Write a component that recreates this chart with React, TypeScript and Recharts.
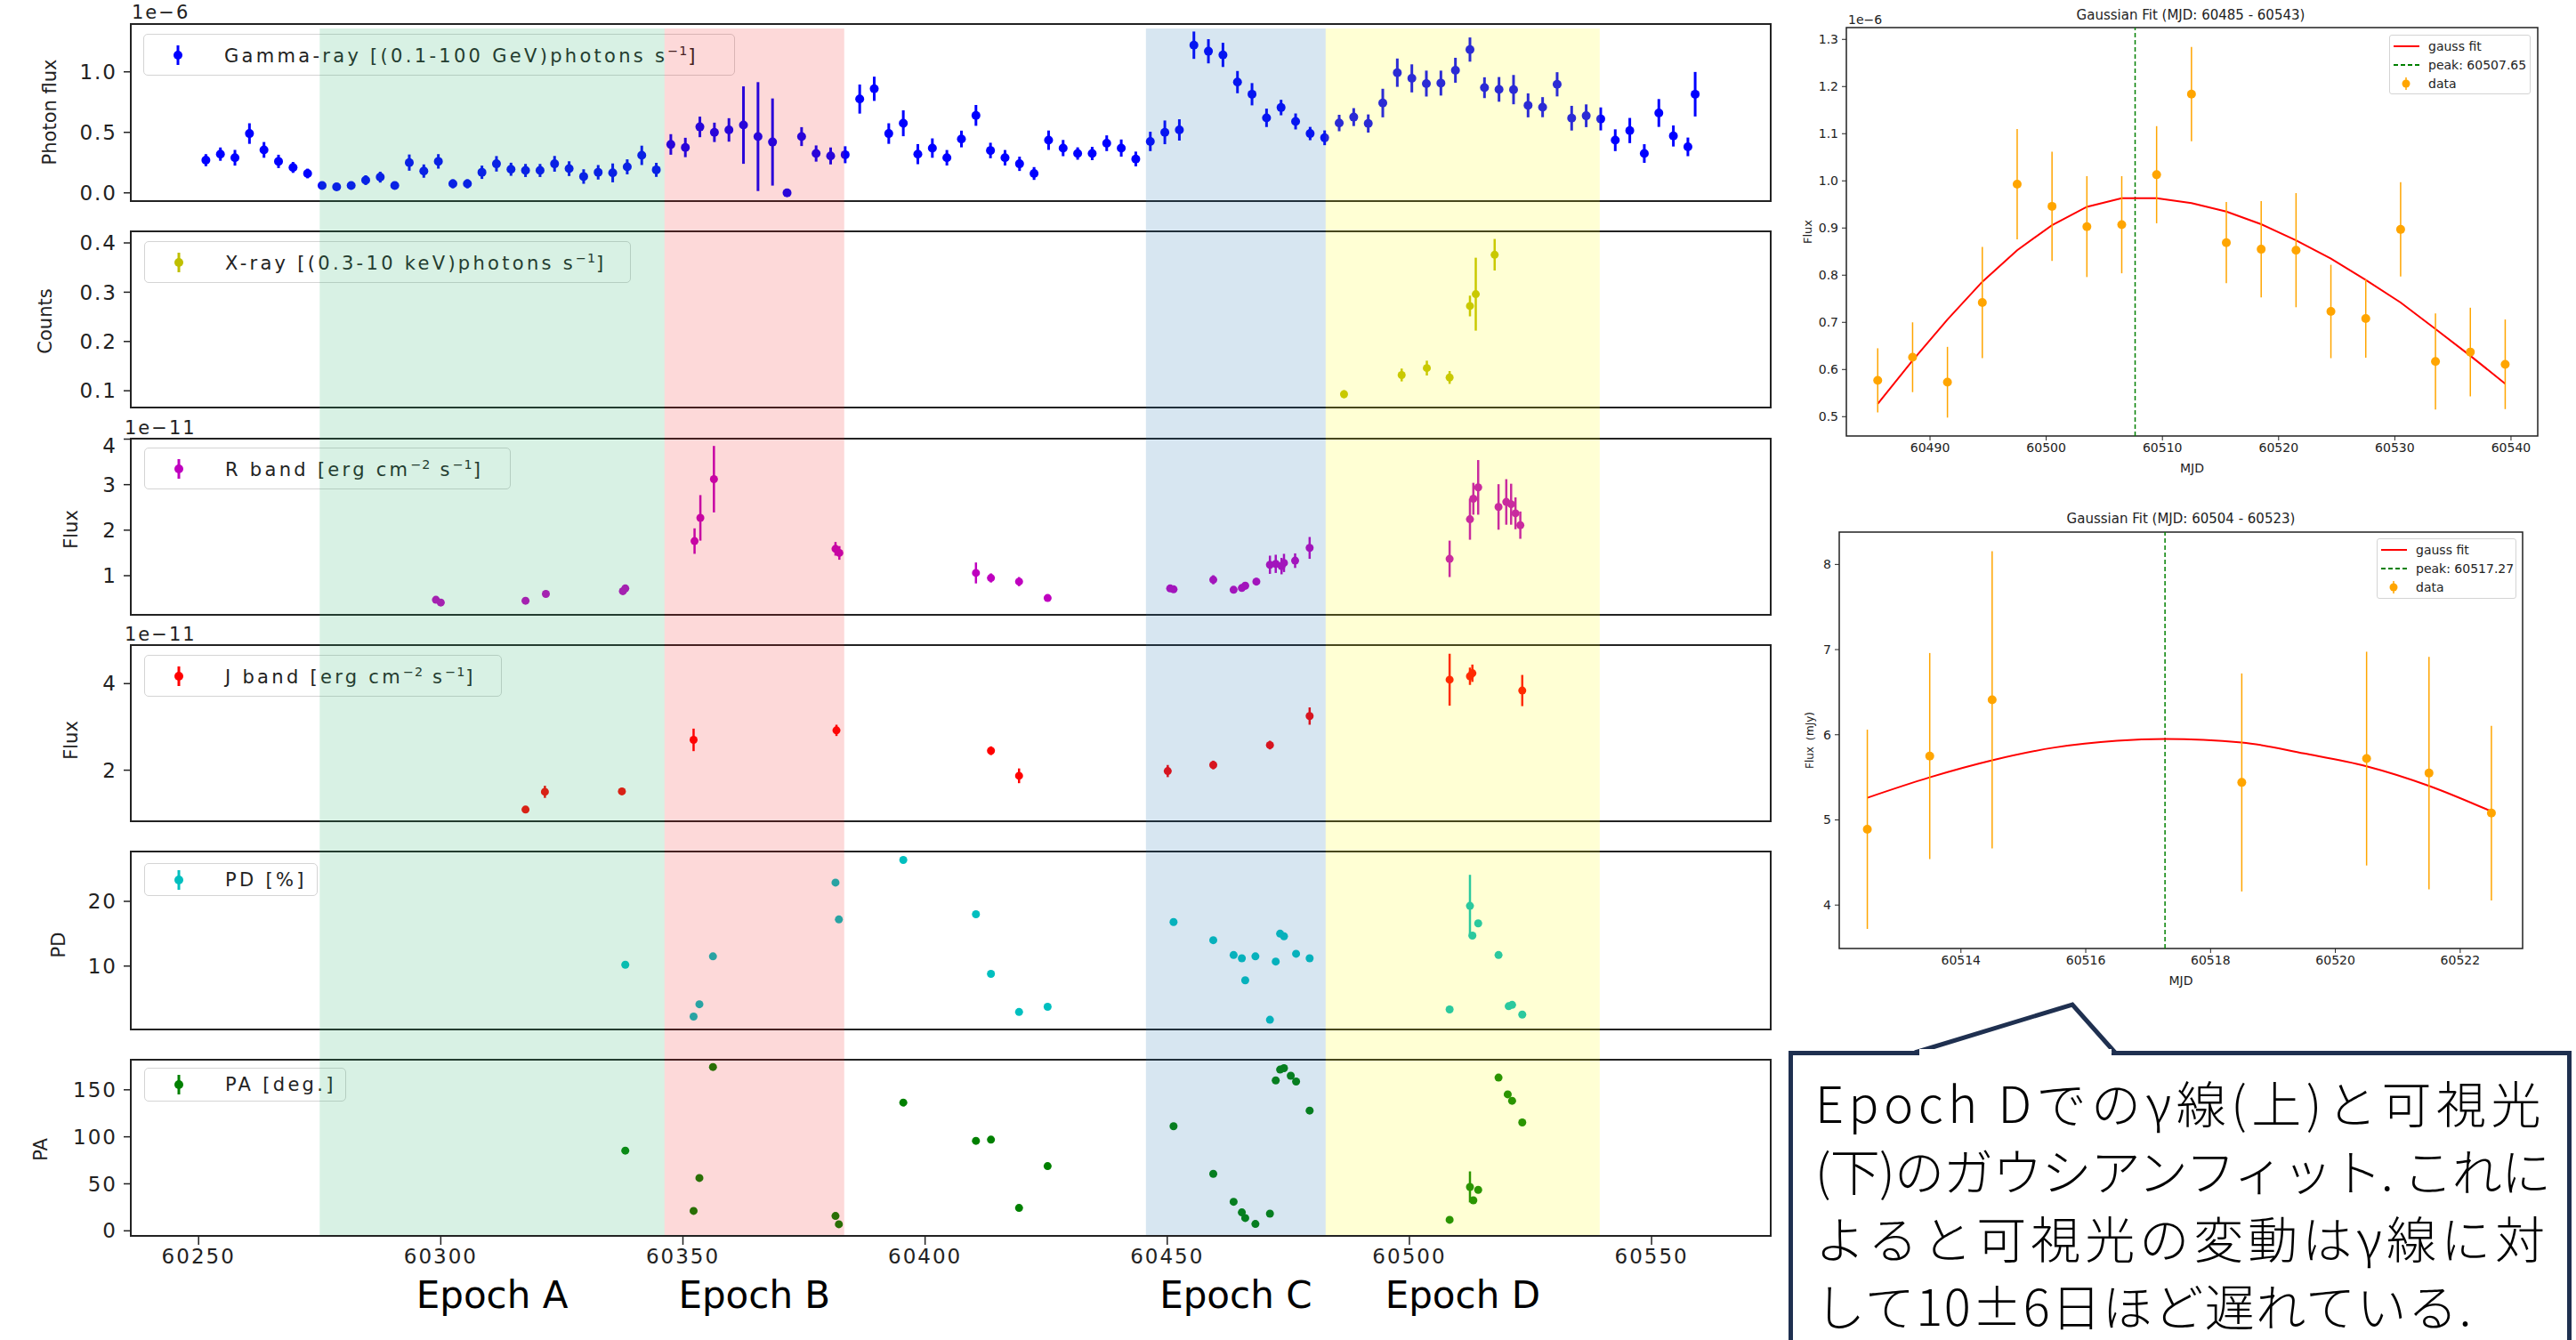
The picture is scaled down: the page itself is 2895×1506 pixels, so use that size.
import React from "react";
import {
  ScatterChart,
  ComposedChart,
  Scatter,
  Line,
  XAxis,
  YAxis,
  ErrorBar,
  ReferenceArea,
  ReferenceLine,
} from "recharts";

const FONT = '"DejaVu Sans", sans-serif';
const JP_FONT = '"Noto Sans CJK JP", sans-serif';

// shared MJD axis of the six light curves
const mjdDomain = [60236, 60574.6];
const mjdTicks = [60250, 60300, 60350, 60400, 60450, 60500, 60550];

const epochNames = ["Epoch A", "Epoch B", "Epoch C", "Epoch D"];
const epochStart = [60275, 60346.2, 60445.6, 60482.7];
const epochEnd = [60346.2, 60383.3, 60482.7, 60539.3];
const epochFill = [
  "rgba(50,180,110,0.19)",
  "rgba(245,30,30,0.17)",
  "rgba(31,119,180,0.18)",
  "rgba(255,255,0,0.17)",
];

// gamma-ray, 3 day bins (1e-6 ph cm-2 s-1)
const gammaMjd = [
  60251.5, 60254.5, 60257.5, 60260.5, 60263.5, 60266.5, 60269.5, 60272.5,
  60275.5, 60278.5, 60281.5, 60284.5, 60287.5, 60290.5, 60293.5, 60296.5,
  60299.5, 60302.5, 60305.5, 60308.5, 60311.5, 60314.5, 60317.5, 60320.5,
  60323.5, 60326.5, 60329.5, 60332.5, 60335.5, 60338.5, 60341.5, 60344.5,
  60347.5, 60350.5, 60353.5, 60356.5, 60359.5, 60362.5, 60365.5, 60368.5,
  60371.5, 60374.5, 60377.5, 60380.5, 60383.5, 60386.5, 60389.5, 60392.5,
  60395.5, 60398.5, 60401.5, 60404.5, 60407.5, 60410.5, 60413.5, 60416.5,
  60419.5, 60422.5, 60425.5, 60428.5, 60431.5, 60434.5, 60437.5, 60440.5,
  60443.5, 60446.5, 60449.5, 60452.5, 60455.5, 60458.5, 60461.5, 60464.5,
  60467.5, 60470.5, 60473.5, 60476.5, 60479.5, 60482.5, 60485.5, 60488.5,
  60491.5, 60494.5, 60497.5, 60500.5, 60503.5, 60506.5, 60509.5, 60512.5,
  60515.5, 60518.5, 60521.5, 60524.5, 60527.5, 60530.5, 60533.5, 60536.5,
  60539.5, 60542.5, 60545.5, 60548.5, 60551.5, 60554.5, 60557.5, 60559.0,
];
const gammaFlux = [
  0.27, 0.32, 0.29, 0.49, 0.355, 0.26, 0.21, 0.16,
  0.06, 0.05, 0.06, 0.105, 0.13, 0.06, 0.25, 0.18,
  0.26, 0.075, 0.075, 0.17, 0.24, 0.195, 0.185, 0.185,
  0.24, 0.2, 0.135, 0.17, 0.165, 0.215, 0.31, 0.19,
  0.4, 0.375, 0.545, 0.5, 0.52, 0.56, 0.465, 0.42,
  0.0, 0.465, 0.325, 0.305, 0.315, 0.775, 0.86, 0.49,
  0.575, 0.32, 0.37, 0.29, 0.445, 0.64, 0.35, 0.29,
  0.24, 0.16, 0.435, 0.37, 0.325, 0.325, 0.41, 0.37,
  0.28, 0.425, 0.5, 0.52, 1.22, 1.17, 1.14, 0.915,
  0.815, 0.62, 0.705, 0.59, 0.49, 0.455, 0.577, 0.626,
  0.573, 0.742, 0.993, 0.946, 0.903, 0.907, 1.013, 1.184,
  0.869, 0.855, 0.853, 0.723, 0.708, 0.897, 0.617, 0.637,
  0.611, 0.435, 0.515, 0.325, 0.66, 0.47, 0.38, 0.815,
];
const gammaErr = [
  0.05, 0.055, 0.065, 0.085, 0.065, 0.055, 0.045, 0.04,
  0.025, 0.025, 0.033, 0.04, 0.045, 0.03, 0.067, 0.055,
  0.06, 0.037, 0.037, 0.055, 0.064, 0.054, 0.054, 0.054,
  0.065, 0.061, 0.06, 0.06, 0.078, 0.062, 0.08, 0.058,
  0.085, 0.08, 0.085, 0.08, 0.097, 0.32, 0.45, 0.36,
  0, 0.078, 0.067, 0.07, 0.07, 0.12, 0.1, 0.085,
  0.107, 0.083, 0.08, 0.064, 0.069, 0.086, 0.064, 0.064,
  0.059, 0.053, 0.08, 0.067, 0.051, 0.055, 0.065, 0.071,
  0.061, 0.08, 0.098, 0.088, 0.113, 0.1, 0.1, 0.092,
  0.092, 0.076, 0.064, 0.066, 0.055, 0.061, 0.068, 0.074,
  0.075, 0.118, 0.117, 0.116, 0.107, 0.103, 0.103, 0.1,
  0.086, 0.102, 0.121, 0.099, 0.083, 0.1, 0.102, 0.094,
  0.095, 0.09, 0.104, 0.077, 0.115, 0.087, 0.077, 0.184,
];

// X-ray counts
const xrayMjd = [60486.5, 60498.4, 60503.6, 60508.3, 60512.5, 60513.7, 60517.6];
const xrayRate = [0.093, 0.132, 0.146, 0.127, 0.272, 0.296, 0.376];
const xrayErr = [0.008, 0.013, 0.015, 0.013, 0.021, 0.074, 0.032];

// R band (1e-11)
const rMjd = [
  60299.0, 60300.0, 60317.5, 60321.7, 60337.6, 60338.1, 60352.4, 60353.6,
  60356.4, 60381.5, 60382.3, 60410.5, 60413.6, 60419.4, 60425.3, 60450.6,
  60451.3, 60459.5, 60463.7, 60465.4, 60466.1, 60468.4, 60471.2, 60472.4,
  60473.6, 60474.1, 60476.4, 60479.4, 60508.3, 60512.5, 60513.2, 60514.2,
  60518.4, 60520.0, 60521.0, 60521.9, 60522.9,
];
const rFlux = [
  0.47, 0.41, 0.45, 0.6, 0.66, 0.72, 1.76, 2.27,
  3.12, 1.59, 1.5, 1.06, 0.95, 0.87, 0.51, 0.72,
  0.7, 0.91, 0.69, 0.73, 0.78, 0.87, 1.24, 1.26,
  1.21, 1.28, 1.33, 1.61, 1.37, 2.24, 2.69, 2.94,
  2.51, 2.62, 2.57, 2.37, 2.11,
];
const rErr = [
  0.06, 0.05, 0.05, 0.05, 0.06, 0.06, 0.28, 0.5,
  0.73, 0.15, 0.15, 0.23, 0.1, 0.1, 0.05, 0.05,
  0.05, 0.1, 0.06, 0.07, 0.08, 0.08, 0.2, 0.2,
  0.18, 0.2, 0.16, 0.24, 0.4, 0.45, 0.35, 0.6,
  0.5, 0.5, 0.45, 0.35, 0.3,
];

// J band (1e-11)
const jMjd = [
  60317.5, 60321.5, 60337.4, 60352.2, 60381.7, 60413.6, 60419.4, 60450.1,
  60459.5, 60471.2, 60479.4, 60508.3, 60512.5, 60513.0, 60523.3,
];
const jFlux = [1.09, 1.5, 1.51, 2.7, 2.92, 2.45, 1.87, 1.98, 2.12, 2.58, 3.25, 4.09, 4.17, 4.24, 3.84];
const jErr = [0.05, 0.14, 0.07, 0.26, 0.13, 0.1, 0.17, 0.14, 0.1, 0.1, 0.2, 0.6, 0.2, 0.2, 0.36];

// polarization degree
const pdMjd = [
  60338.1, 60352.2, 60353.4, 60356.2, 60381.5, 60382.2, 60395.5, 60410.5,
  60413.6, 60419.4, 60425.3, 60451.3, 60459.5, 60463.7, 60465.4, 60466.1,
  60468.2, 60471.2, 60472.4, 60473.3, 60474.1, 60476.6, 60479.4, 60508.3,
  60512.5, 60513.0, 60514.2, 60518.4, 60520.5, 60521.2, 60523.3,
];
const pdVal = [
  10.2, 2.2, 4.1, 11.5, 22.9, 17.2, 26.4, 18.0,
  8.8, 2.9, 3.7, 16.8, 14.0, 11.7, 11.2, 7.8,
  11.5, 1.7, 10.7, 15.0, 14.6, 11.9, 11.2, 3.3,
  19.3, 14.7, 16.6, 11.7, 3.8, 4.0, 2.5,
];
const pdErr = [
  0.3, 0.3, 0.3, 0.3, 0.4, 0.3, 0.4, 0.3,
  0.3, 0.3, 0.3, 0.3, 0.3, 0.3, 0.3, 0.3,
  0.3, 0.3, 0.3, 0.4, 0.3, 0.3, 0.3, 0.3,
  4.8, 0.4, 0.4, 0.3, 0.3, 0.3, 0.3,
];

// polarization angle
const paMjd = [
  60338.1, 60352.2, 60353.4, 60356.2, 60381.5, 60382.2, 60395.5, 60410.5,
  60413.6, 60419.4, 60425.3, 60451.3, 60459.5, 60463.7, 60465.4, 60466.1,
  60468.2, 60471.2, 60472.4, 60473.3, 60474.1, 60475.5, 60476.6, 60479.4,
  60508.3, 60512.5, 60513.2, 60514.2, 60518.4, 60520.3, 60521.2, 60523.3,
];
const paVal = [
  85.3, 21.2, 56.2, 174.3, 15.8, 7.0, 136.4, 95.7,
  97.0, 24.3, 68.8, 111.2, 60.6, 30.9, 19.6, 13.6,
  7.3, 18.3, 160.0, 171.5, 173.0, 165.0, 158.8, 127.9,
  11.7, 46.7, 32.5, 43.6, 163.0, 145.2, 138.3, 115.3,
];
const paErr = [
  1.5, 1.5, 1.5, 1.5, 1.5, 1.5, 1.5, 1.5,
  1.5, 1.5, 1.5, 1.5, 1.5, 1.5, 1.5, 1.5,
  1.5, 1.5, 1.5, 1.5, 1.5, 1.5, 1.5, 1.5,
  1.5, 16.5, 1.5, 1.5, 1.5, 1.5, 1.5, 1.5,
];

// gaussian fit, gamma rays in epoch D
const gFitMjd = [
  60485.5, 60488.5, 60491.5, 60494.5, 60497.5, 60500.5, 60503.5, 60506.5,
  60509.5, 60512.5, 60515.5, 60518.5, 60521.5, 60524.5, 60527.5, 60530.5,
  60533.5, 60536.5, 60539.5,
];
const gFitFlux = [
  0.577, 0.626, 0.573, 0.742, 0.993, 0.946, 0.903, 0.907,
  1.013, 1.184, 0.869, 0.855, 0.853, 0.723, 0.708, 0.897,
  0.617, 0.637, 0.611,
];
const gFitErr = [
  0.068, 0.074, 0.075, 0.118, 0.117, 0.116, 0.107, 0.103,
  0.103, 0.1, 0.086, 0.102, 0.121, 0.099, 0.083, 0.1,
  0.102, 0.094, 0.095,
];
const gFitCurve = [
  0.527, 0.619, 0.706, 0.786, 0.853, 0.906, 0.945, 0.963,
  0.963, 0.953, 0.935, 0.908, 0.874, 0.835, 0.79, 0.742,
  0.686, 0.629, 0.57,
];
const gPeak = 60507.65;

// gaussian fit, optical in epoch D (mJy)
const oMjd = [60512.5, 60513.5, 60514.5, 60518.5, 60520.5, 60521.5, 60522.5];
const oFlux = [4.89, 5.75, 6.41, 5.44, 5.72, 5.55, 5.08];
const oErr = [1.17, 1.21, 1.745, 1.28, 1.255, 1.365, 1.025];
const oCurveMjd = [
  60512.5, 60513.5, 60514.5, 60515.5, 60516.5, 60517.27, 60518.5, 60519.5,
  60520.5, 60521.5, 60522.5,
];
const oCurve = [5.26, 5.5, 5.7, 5.85, 5.93, 5.95, 5.91, 5.78, 5.63, 5.4, 5.1];
const oPeak = 60517.27;

const noteLines = [
  "Epoch Dでのγ線(上)と可視光",
  "(下)のガウシアンフィット. これに",
  "よると可視光の変動はγ線に対",
  "して10±6日ほど遅れている.",
];
const noteSpacing = [5.5, -0.8, 5, 1.5];

const pts = (xs: number[], ys: number[], es?: number[]) =>
  xs.map((x, i) => ({ x, y: ys[i], e: es ? es[i] : 0 }));

const dot = (r: number, color: string) => (props: any) =>
  <circle cx={props.cx} cy={props.cy} r={r} fill={color} />;

const leftTick = { fontSize: 23, fill: "#222", fontFamily: FONT, letterSpacing: 2 };
const rightTick = { fontSize: 14, fill: "#222", fontFamily: FONT };

interface PanelProps {
  top: number;
  plotH: number;
  yDomain: number[];
  yTicks: number[];
  fmt: (v: number) => string;
  data: { x: number; y: number; e: number }[];
  color: string;
  r: number;
  ew: number;
  last?: boolean;
}

const Panel: React.FC<PanelProps> = (p) => {
  const xH = p.last ? 50 : 12;
  return (
    <div style={{ position: "absolute", left: 0, top: p.top - 5 }}>
      <ScatterChart width={2000} height={5 + p.plotH + xH} margin={{ top: 5, right: 10, left: 0, bottom: 0 }}>
        <XAxis
          type="number"
          dataKey="x"
          domain={mjdDomain}
          ticks={mjdTicks}
          allowDataOverflow
          height={xH}
          axisLine={false}
          tickLine={{ stroke: "#222", strokeWidth: 1.5 }}
          tickSize={10}
          tickMargin={5}
          tick={p.last ? leftTick : false}
        />
        <YAxis
          type="number"
          dataKey="y"
          domain={p.yDomain}
          ticks={p.yTicks}
          allowDataOverflow
          width={147}
          axisLine={false}
          tickLine={{ stroke: "#222", strokeWidth: 1.5 }}
          tickSize={8}
          tickMargin={7}
          tick={leftTick}
          tickFormatter={p.fmt}
        />
        <ReferenceArea
          x1={mjdDomain[0]}
          x2={mjdDomain[1]}
          y1={p.yDomain[0]}
          y2={p.yDomain[1]}
          fill="none"
          stroke="#222"
          strokeWidth={2}
          ifOverflow="visible"
        />
        <Scatter data={p.data} fill={p.color} shape={dot(p.r, p.color)} isAnimationActive={false}>
          <ErrorBar dataKey="e" direction="y" width={0} stroke={p.color} strokeWidth={p.ew} isAnimationActive={false} />
        </Scatter>
      </ScatterChart>
    </div>
  );
};

const Txt: React.FC<{ x: number; y: number; size: number; anchor?: number; rotate?: boolean; spacing?: number; children: React.ReactNode }> = ({
  x, y, size, anchor = 0, rotate, spacing = 0, children,
}) => (
  <div
    style={{
      position: "absolute",
      left: x,
      top: y,
      transform: rotate ? "translate(-50%,-50%) rotate(-90deg)" : `translate(${-anchor}%,-50%)`,
      fontFamily: FONT,
      fontSize: size,
      letterSpacing: spacing,
      lineHeight: 1,
      whiteSpace: "nowrap",
      color: "#222",
    }}
  >
    {children}
  </div>
);

const PanelLegend: React.FC<{ left: number; top: number; width: number; height: number; color: string; children: React.ReactNode }> = ({
  left, top, width, height, color, children,
}) => (
  <div
    style={{
      position: "absolute",
      left,
      top,
      width,
      height,
      boxSizing: "border-box",
      border: "1.5px solid #d4d4d4",
      borderRadius: 5,
      background: "rgba(255,255,255,0.8)",
      display: "flex",
      alignItems: "center",
      fontFamily: FONT,
      fontSize: 21,
      letterSpacing: 3.3,
      color: "#222",
      whiteSpace: "nowrap",
    }}
  >
    <svg width={90} height={26} style={{ flex: "none" }}>
      <line x1={38} x2={38} y1={2} y2={24} stroke={color} strokeWidth={3} />
      <circle cx={38} cy={13} r={5} fill={color} />
    </svg>
    <span>{children}</span>
  </div>
);

const FitLegend: React.FC<{ left: number; top: number; width: number; height: number; peak: string }> = ({
  left, top, width, height, peak,
}) => {
  const row = { display: "flex", alignItems: "center", height: 21 } as const;
  return (
    <div
      style={{
        position: "absolute",
        left,
        top,
        width,
        height,
        boxSizing: "border-box",
        border: "1px solid #d4d4d4",
        borderRadius: 3,
        background: "#fff",
        padding: "1px 0 0 3px",
        fontFamily: FONT,
        fontSize: 14,
        color: "#222",
        whiteSpace: "nowrap",
      }}
    >
      <div style={row}>
        <svg width={40} height={10}><line x1={1} x2={30} y1={5} y2={5} stroke="#ff0000" strokeWidth={2} /></svg>
        <span>gauss fit</span>
      </div>
      <div style={row}>
        <svg width={40} height={10}><line x1={1} x2={30} y1={5} y2={5} stroke="#008000" strokeWidth={2} strokeDasharray="5 3" /></svg>
        <span>{peak}</span>
      </div>
      <div style={row}>
        <svg width={40} height={16}>
          <line x1={15} x2={15} y1={1} y2={15} stroke="#ffa500" strokeWidth={1.5} />
          <circle cx={15} cy={8} r={4.5} fill="#ffa500" />
        </svg>
        <span>data</span>
      </div>
    </div>
  );
};

const sup = (s: string) => <sup style={{ fontSize: "0.68em", letterSpacing: 1 }}>{s}</sup>;

export default function App() {
  const f1 = (v: number) => v.toFixed(1);
  const f0 = (v: number) => String(v);

  return (
    <div style={{ position: "absolute", left: 0, top: 0, width: 2895, height: 1506, background: "#fff", overflow: "hidden" }}>
      {/* light curves */}
      <Panel top={27} plotH={199} yDomain={[-0.068, 1.395]} yTicks={[0, 0.5, 1.0]} fmt={f1}
        data={pts(gammaMjd, gammaFlux, gammaErr)} color="#0000ff" r={5} ew={3} />
      <Panel top={260} plotH={198} yDomain={[0.066, 0.4235]} yTicks={[0.1, 0.2, 0.3, 0.4]} fmt={f1}
        data={pts(xrayMjd, xrayRate, xrayErr)} color="#bfbf00" r={4.5} ew={2.5} />
      <Panel top={493} plotH={198} yDomain={[0.14, 4.01]} yTicks={[1, 2, 3, 4]} fmt={f0}
        data={pts(rMjd, rFlux, rErr)} color="#bf00bf" r={4.5} ew={2.5} />
      <Panel top={725} plotH={198} yDomain={[0.82, 4.89]} yTicks={[2, 4]} fmt={f0}
        data={pts(jMjd, jFlux, jErr)} color="#ff0000" r={4.5} ew={2.5} />
      <Panel top={957} plotH={200} yDomain={[0.2, 27.7]} yTicks={[10, 20]} fmt={f0}
        data={pts(pdMjd, pdVal, pdErr)} color="#00bfbf" r={4.5} ew={2.5} />
      <Panel top={1191} plotH={198} yDomain={[-5.4, 182]} yTicks={[0, 50, 100, 150]} fmt={f0}
        data={pts(paMjd, paVal, paErr)} color="#008000" r={4.5} ew={2.5} last />

      <Txt x={56} y={126} size={21} rotate>Photon flux</Txt>
      <Txt x={51} y={361} size={21} rotate>Counts</Txt>
      <Txt x={80} y={595} size={21} rotate>Flux</Txt>
      <Txt x={80} y={832} size={21} rotate>Flux</Txt>
      <Txt x={66} y={1062} size={21} rotate>PD</Txt>
      <Txt x={46} y={1292} size={21} rotate>PA</Txt>

      <Txt x={148} y={14} size={21} spacing={2}>1e−6</Txt>
      <Txt x={140} y={481} size={21} spacing={2}>1e−11</Txt>
      <Txt x={140} y={713} size={21} spacing={2}>1e−11</Txt>

      <PanelLegend left={161} top={38} width={665} height={47} color="#0000ff">
        Gamma-ray [(0.1-100 GeV)photons s{sup("−1")}]
      </PanelLegend>
      <PanelLegend left={162} top={271} width={547} height={47} color="#bfbf00">
        X-ray [(0.3-10 keV)photons s{sup("−1")}]
      </PanelLegend>
      <PanelLegend left={162} top={503} width={412} height={47} color="#bf00bf">
        R band [erg cm{sup("−2")} s{sup("−1")}]
      </PanelLegend>
      <PanelLegend left={162} top={736} width={402} height={47} color="#ff0000">
        J band [erg cm{sup("−2")} s{sup("−1")}]
      </PanelLegend>
      <PanelLegend left={162} top={970} width={195} height={37} color="#00bfbf">
        PD [%]
      </PanelLegend>
      <PanelLegend left={162} top={1200} width={227} height={38} color="#008000">
        PA [deg.]
      </PanelLegend>

      {/* epoch bands laid over all six panels */}
      <div style={{ position: "absolute", left: 0, top: 0, pointerEvents: "none" }}>
        <ComposedChart width={2000} height={1506} margin={{ top: 32, right: 10, bottom: 118, left: 147 }} data={[]}>
          <XAxis type="number" dataKey="x" domain={mjdDomain} allowDataOverflow hide />
          <YAxis type="number" dataKey="y" domain={[0, 1]} allowDataOverflow hide />
          {epochNames.map((name, i) => (
            <ReferenceArea
              key={name}
              x1={epochStart[i]}
              x2={epochEnd[i]}
              y1={0}
              y2={1}
              fill={epochFill[i]}
              fillOpacity={1}
              stroke="none"
              ifOverflow="visible"
              label={{ value: name, position: "bottom", offset: 52, fill: "#000", fontSize: 42, fontFamily: FONT }}
            />
          ))}
        </ComposedChart>
      </div>

      {/* gaussian fit: gamma rays */}
      <Txt x={2462} y={17} size={15} anchor={50}>Gaussian Fit (MJD: 60485 - 60543)</Txt>
      <Txt x={2077} y={22} size={14}>1e−6</Txt>
      <div style={{ position: "absolute", left: 2000, top: 21 }}>
        <ComposedChart width={862} height={514} margin={{ top: 10, right: 10, left: 0, bottom: 0 }}>
          <XAxis
            type="number"
            dataKey="x"
            domain={[60482.8, 60542.3]}
            ticks={[60490, 60500, 60510, 60520, 60530, 60540]}
            allowDataOverflow
            height={45}
            axisLine={false}
            tickLine={{ stroke: "#222" }}
            tickSize={5}
            tickMargin={3}
            tick={rightTick}
            label={{ value: "MJD", position: "insideBottom", offset: 4, fontSize: 14, fill: "#222", fontFamily: FONT }}
          />
          <YAxis
            type="number"
            dataKey="y"
            domain={[0.459, 1.325]}
            ticks={[0.5, 0.6, 0.7, 0.8, 0.9, 1.0, 1.1, 1.2, 1.3]}
            allowDataOverflow
            width={75}
            axisLine={false}
            tickLine={{ stroke: "#222" }}
            tickSize={5}
            tickMargin={4}
            tick={rightTick}
            tickFormatter={f1}
            label={{ value: "Flux", angle: -90, position: "center", dx: -6, fontSize: 13, fill: "#222", fontFamily: FONT }}
          />
          <ReferenceArea x1={60482.8} x2={60542.3} y1={0.459} y2={1.325} fill="none" stroke="#222" strokeWidth={1.5} ifOverflow="visible" />
          <ReferenceLine x={gPeak} stroke="#008000" strokeWidth={1.5} strokeDasharray="5 3" />
          <Line data={pts(gFitMjd, gFitCurve)} dataKey="y" type="linear" stroke="#ff0000" strokeWidth={2} dot={false} isAnimationActive={false} />
          <Scatter data={pts(gFitMjd, gFitFlux, gFitErr)} dataKey="y" fill="#ffa500" shape={dot(5, "#ffa500")} isAnimationActive={false}>
            <ErrorBar dataKey="e" direction="y" width={0} stroke="#ffa500" strokeWidth={1.5} isAnimationActive={false} />
          </Scatter>
        </ComposedChart>
      </div>
      <FitLegend left={2685} top={39} width={159} height={67} peak="peak: 60507.65" />

      {/* gaussian fit: optical */}
      <Txt x={2451} y={583} size={15} anchor={50}>Gaussian Fit (MJD: 60504 - 60523)</Txt>
      <div style={{ position: "absolute", left: 2000, top: 587.5 }}>
        <ComposedChart width={845} height={523} margin={{ top: 10, right: 10, left: 0, bottom: 0 }}>
          <XAxis
            type="number"
            dataKey="x"
            domain={[60512.05, 60523.0]}
            ticks={[60514, 60516, 60518, 60520, 60522]}
            allowDataOverflow
            height={45}
            axisLine={false}
            tickLine={{ stroke: "#222" }}
            tickSize={5}
            tickMargin={3}
            tick={rightTick}
            label={{ value: "MJD", position: "insideBottom", offset: 4, fontSize: 14, fill: "#222", fontFamily: FONT }}
          />
          <YAxis
            type="number"
            dataKey="y"
            domain={[3.49, 8.38]}
            ticks={[4, 5, 6, 7, 8]}
            allowDataOverflow
            width={67}
            axisLine={false}
            tickLine={{ stroke: "#222" }}
            tickSize={5}
            tickMargin={4}
            tick={rightTick}
            tickFormatter={f0}
            label={{ value: "Flux（mJy)", angle: -90, position: "center", fontSize: 12, fill: "#222", fontFamily: FONT }}
          />
          <ReferenceArea x1={60512.05} x2={60523.0} y1={3.49} y2={8.38} fill="none" stroke="#222" strokeWidth={1.5} ifOverflow="visible" />
          <ReferenceLine x={oPeak} stroke="#008000" strokeWidth={1.5} strokeDasharray="5 3" />
          <Line data={pts(oCurveMjd, oCurve)} dataKey="y" type="monotone" stroke="#ff0000" strokeWidth={2} dot={false} isAnimationActive={false} />
          <Scatter data={pts(oMjd, oFlux, oErr)} dataKey="y" fill="#ffa500" shape={dot(5, "#ffa500")} isAnimationActive={false}>
            <ErrorBar dataKey="e" direction="y" width={0} stroke="#ffa500" strokeWidth={1.5} isAnimationActive={false} />
          </Scatter>
        </ComposedChart>
      </div>
      <FitLegend left={2671} top={605} width={157} height={68} peak="peak: 60517.27" />

      {/* callout */}
      <div
        style={{
          position: "absolute",
          left: 2010,
          top: 1181,
          width: 880,
          height: 360,
          boxSizing: "border-box",
          border: "5px solid #1f3050",
          background: "#fff",
          padding: "14px 0 0 25px",
          fontFamily: JP_FONT,
          fontSize: 56,
          fontWeight: 300,
          lineHeight: "76px",
          color: "#000",
          whiteSpace: "nowrap",
          overflow: "hidden",
        }}
      >
        {noteLines.map((t, i) => (
          <div key={t} style={{ letterSpacing: noteSpacing[i] }}>{t}</div>
        ))}
      </div>
      <svg style={{ position: "absolute", left: 2140, top: 1120 }} width={260} height={75}>
        <polyline points="12,63 189,9 237,63" fill="#fff" stroke="#1f3050" strokeWidth={5} strokeLinejoin="miter" />
        <rect x={17} y={59} width={216} height={9} fill="#fff" />
      </svg>
    </div>
  );
}
